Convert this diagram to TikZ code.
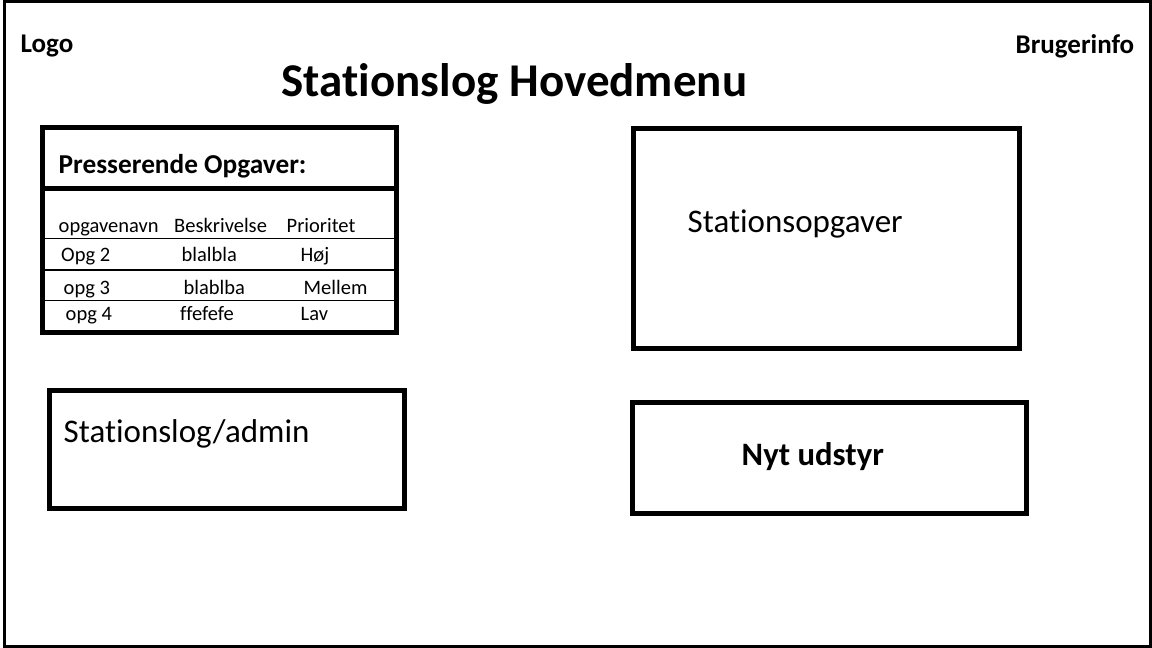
\documentclass[tikz,border=0pt]{standalone}
\usepackage{fontspec}
\setmainfont{Carlito}[Ligatures=NoCommon]
\newcommand{\fsz}[1]{\fontsize{#1}{#1}\selectfont}
\begin{document}
\begin{tikzpicture}[x=1pt,y=-1pt,
  frame/.style={draw=black,line width=3pt},
  box/.style={draw=black,line width=5pt},
  sep/.style={draw=black,line width=4.5pt},
  rowline/.style={draw=black,line width=1.2pt},
  txt/.style={inner sep=0pt,anchor=base west,text=black},
  hdr/.style={txt,font=\fsz{27}\bfseries},
  cell/.style={txt,font=\fsz{20.5}},
  big/.style={txt,font=\fsz{33}}]
\useasboundingbox (0,0) rectangle (1152,648);
\fill[white] (0,0) rectangle (1152,648);
% outer frame
\draw[frame] (4.5,1.5) rectangle (1150.5,646.5);
% header texts
\node[hdr] (logo) at (20.5,52.3) {Logo};
\node[hdr] (bruger) at (1015.5,53.3) {Brugerinfo};
\node[txt,font=\fsz{47}\bfseries] (title) at (281.5,96.7) {Stationslog Hovedmenu};
% urgent tasks table
\draw[box] (42.5,127.5) rectangle (396.5,332);
\draw[sep] (42.5,188.5) -- (396.5,188.5);
\draw[rowline] (45,238.5) -- (394,238.5);
\draw[rowline] (45,270) -- (394,270);
\draw[rowline] (45,300.5) -- (394,300.5);
\node[txt,font=\fsz{27.3}\bfseries] (urgent) at (58.5,173) {Presserende Opgaver:};
\node[cell] (h1) at (58.5,232) {opgavenavn};
\node[cell] (h2) at (174,232) {Beskrivelse};
\node[cell] (h3) at (286.5,232) {Prioritet};
\node[cell] (r1a) at (61,261.7) {Opg 2};
\node[cell] (r1b) at (181.5,261.7) {blalbla};
\node[cell] (r1c) at (300.5,261.7) {Høj};
\node[cell] (r2a) at (63.5,294) {opg 3};
\node[cell] (r2b) at (183.5,294) {blablba};
\node[cell] (r2c) at (303.5,294) {Mellem};
\node[cell] (r3a) at (65.5,320) {opg 4};
\node[cell] (r3b) at (180,320) {ffefefe};
\node[cell] (r3c) at (300.5,320) {Lav};
% Stationsopgaver
\draw[box] (633.5,128.5) rectangle (1019,348);
\node[big] (stopg) at (687.5,232.3) {Stationsopgaver};
% Stationslog/admin
\draw[box] (49.8,390) rectangle (404,508);
\node[big] (admin) at (63.5,442.7) {Stationslog/admin};
% Nyt udstyr
\draw[box] (632.5,402) rectangle (1026.5,513);
\node[txt,font=\fsz{32.7}\bfseries] (nyt) at (741.5,465.7) {Nyt udstyr};
\end{tikzpicture}
\end{document}
